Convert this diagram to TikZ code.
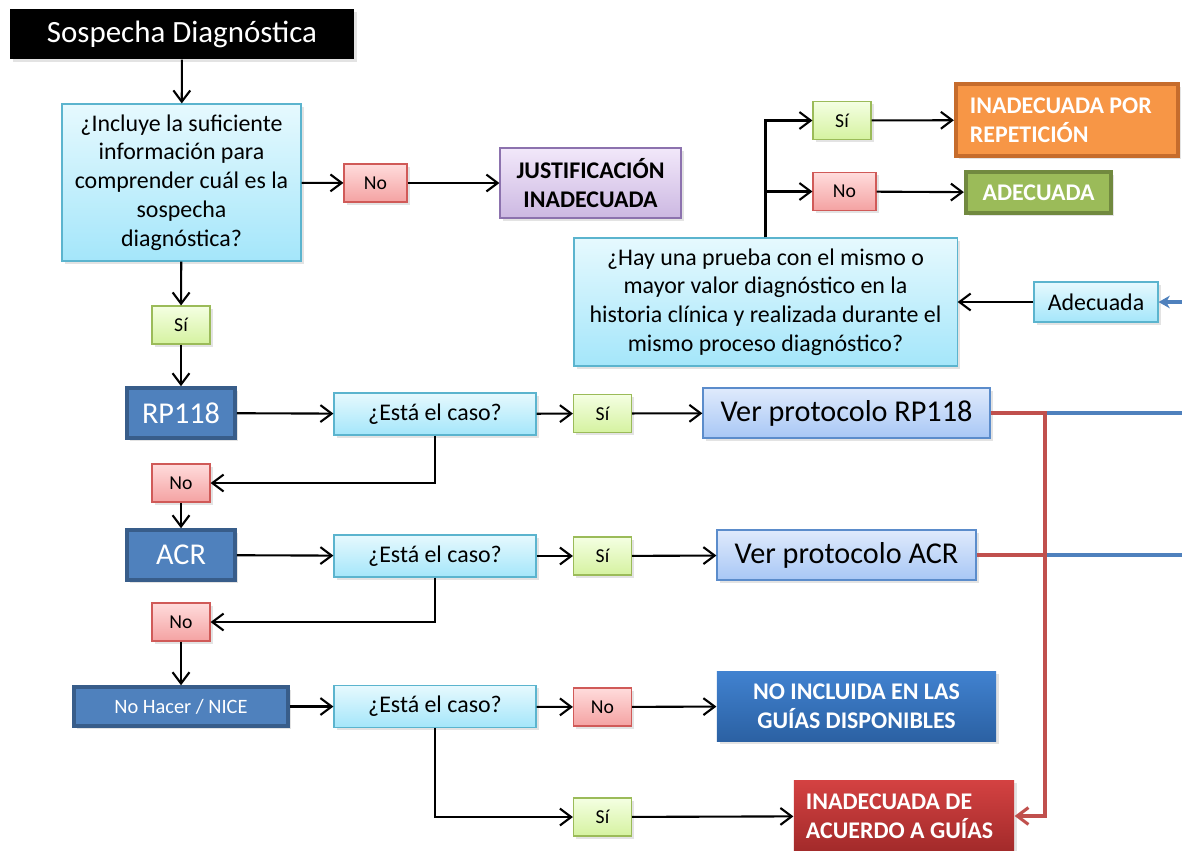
\documentclass[tikz,border=0pt]{standalone}
\usepackage{fontspec}
\setmainfont{Carlito}
\usetikzlibrary{arrows.meta,shadows}

\definecolor{asktop}{HTML}{E6F9FE}
\definecolor{askbot}{HTML}{A4E6FA}
\definecolor{askline}{HTML}{5BB4CE}
\definecolor{sitop}{HTML}{F4FFE2}
\definecolor{sibot}{HTML}{D5F2A0}
\definecolor{siline}{HTML}{9BBB59}
\definecolor{notop}{HTML}{FFDCDC}
\definecolor{nobot}{HTML}{F4A2A2}
\definecolor{noline}{HTML}{D05A58}
\definecolor{justop}{HTML}{F2E8FA}
\definecolor{jusbot}{HTML}{CCB8E2}
\definecolor{jusline}{HTML}{8C72AE}
\definecolor{guidefill}{HTML}{4F81BD}
\definecolor{guideline}{HTML}{385D8A}
\definecolor{prototop}{HTML}{DFEAFC}
\definecolor{protobot}{HTML}{A8C7F5}
\definecolor{protoline}{HTML}{5B8CCB}
\definecolor{orangefill}{HTML}{F79646}
\definecolor{orangeline}{HTML}{C66C2C}
\definecolor{greenfill}{HTML}{9BBB59}
\definecolor{greenline}{HTML}{71893F}
\definecolor{inctop}{HTML}{4182D0}
\definecolor{incbot}{HTML}{2B61A3}
\definecolor{badtop}{HTML}{D44242}
\definecolor{badbot}{HTML}{A22A2A}
\definecolor{redline}{HTML}{C0504D}
\definecolor{blueline}{HTML}{4F81BD}

\begin{document}
\begin{tikzpicture}[x=0.025cm,y=-0.025cm,
  box/.style={rectangle,inner sep=2pt,align=center,line width=0.8pt,
    drop shadow={shadow xshift=2pt,shadow yshift=-2pt,opacity=0.22}},
  ask/.style={box,draw=askline,top color=asktop,bottom color=askbot,
    font=\fontsize{17}{20.5}\selectfont},
  sibox/.style={box,draw=siline,top color=sitop,bottom color=sibot,
    font=\fontsize{14}{16}\selectfont,minimum width=1.45cm,minimum height=0.95cm},
  nobox/.style={box,draw=noline,top color=notop,bottom color=nobot,
    font=\fontsize{14}{16}\selectfont,minimum width=1.45cm,minimum height=0.95cm},
  guide/.style={box,fill=guidefill,draw=guideline,line width=2.5pt,text=white,
    font=\fontsize{21.5}{25}\selectfont,minimum width=2.7cm,minimum height=1.25cm},
  proto/.style={box,draw=protoline,top color=prototop,bottom color=protobot,
    font=\fontsize{21.5}{25}\selectfont,minimum height=1.25cm},
  result/.style={box,text=white,font=\bfseries\fontsize{17}{20.5}\selectfont},
  link/.style={draw,line width=1.5pt,-{Straight Barb[length=8pt,width=12pt]}},
  redlink/.style={draw=redline,line width=2.2pt},
  bluelink/.style={draw=blueline,line width=2.2pt}]
  \useasboundingbox (0,0) rectangle (1182,850);

  \node[box,fill=black,text=white,font=\fontsize{22}{26}\selectfont,
    minimum width=8.6cm,minimum height=1.25cm] (sosp) at (182,34) {Sospecha Diagnóstica};
  \node[ask,minimum width=5.975cm,minimum height=3.925cm] (q1) at (181.5,182.5)
    {¿Incluye la suficiente\\información para\\comprender cuál es la\\sospecha\\diagnóstica?};
  \node[nobox,minimum width=1.575cm] (no1) at (375.5,183) {No};
  \node[box,draw=jusline,top color=justop,bottom color=jusbot,
    font=\bfseries\fontsize{17}{20.5}\selectfont,
    minimum width=4.525cm,minimum height=1.75cm] (just) at (590.5,183) {JUSTIFICACIÓN\\INADECUADA};
  \node[sibox] (si1) at (181,325) {Sí};

  \node[guide] (rp) at (181,413) {RP118};
  \node[ask,minimum width=5.05cm,minimum height=1.05cm] (caso1) at (435,414) {¿Está el caso?};
  \node[sibox] (si2) at (602.5,413.5) {Sí};
  \node[proto,minimum width=7.175cm] (verrp) at (846.5,413) {Ver protocolo RP118};
  \node[nobox] (no2) at (181,483) {No};

  \node[guide] (acr) at (181,555) {ACR};
  \node[ask,minimum width=5.05cm,minimum height=1.05cm] (caso2) at (435,556) {¿Está el caso?};
  \node[sibox] (si3) at (602.5,556) {Sí};
  \node[proto,minimum width=6.475cm] (veracr) at (846.5,555) {Ver protocolo ACR};
  \node[nobox] (no3) at (181,622) {No};

  \node[guide,font=\fontsize{14.5}{17}\selectfont,minimum width=5.35cm,
    minimum height=0.975cm] (nice) at (181,706.5) {No Hacer / NICE};
  \node[ask,minimum width=5.05cm,minimum height=1.05cm] (caso3) at (435,706.5) {¿Está el caso?};
  \node[nobox] (no4) at (602.5,707) {No};
  \node[result,top color=inctop,bottom color=incbot,
    minimum width=6.975cm,minimum height=1.75cm] (noinc) at (856.5,706) {NO INCLUIDA EN LAS\\GUÍAS DISPONIBLES};
  \node[sibox] (si4) at (602.5,817) {Sí};
  \node[result,top color=badtop,bottom color=badbot,align=flush left,inner xsep=0.3cm,
    text width=4.9cm,minimum height=1.8cm] (inad) at (904,816) {INADECUADA DE\\ACUERDO A GUÍAS};

  \node[ask,minimum width=9.575cm,minimum height=3.2cm] (q2) at (765.5,302)
    {¿Hay una prueba con el mismo o\\mayor valor diagnóstico en la\\historia clínica y realizada durante el\\mismo proceso diagnóstico?};
  \node[ask,minimum width=3.1cm,minimum height=1cm] (adec) at (1096,302) {Adecuada};
  \node[sibox] (si5) at (842,120.5) {Sí};
  \node[nobox,minimum width=1.575cm] (no5) at (844.5,191.5) {No};
  \node[result,fill=orangefill,draw=orangeline,line width=3pt,align=flush left,
    inner xsep=0.35cm,text width=4.85cm,minimum height=1.8cm] (rep) at (1067,120) {INADECUADA POR\\REPETICIÓN};
  \node[result,fill=greenfill,draw=greenline,line width=3pt,
    minimum width=3.625cm,minimum height=1.025cm] (ok) at (1038.5,192.5) {ADECUADA};

  \coordinate (jn) at (1045,413);
  \coordinate (edgeA) at (1182,413);
  \coordinate (edgeB) at (1182,555);
  \coordinate (edgeC) at (1182,302);

  \path[link] (sosp) -- (q1);
  \path[link] (q1) -- (no1);
  \path[link] (no1) -- (just);
  \path[link] (q1) -- (si1);
  \path[link] (si1) -- (rp);
  \path[link] (rp) -- (caso1);
  \path[link] (caso1) -- (si2);
  \path[link] (si2) -- (verrp);
  \path[link] (caso1.south) |- (no2.east);
  \path[link] (no2) -- (acr);
  \path[link] (acr) -- (caso2);
  \path[link] (caso2) -- (si3);
  \path[link] (si3) -- (veracr);
  \path[link] (caso2.south) |- (no3.east);
  \path[link] (no3) -- (nice);
  \path[link] (nice) -- (caso3);
  \path[link] (caso3) -- (no4);
  \path[link] (no4) -- (noinc);
  \path[link] (caso3.south) |- (si4.west);
  \path[link] (si4) -- (inad);
  \path[link] (adec) -- (q2);
  \path[link] (q2.north) |- (si5.west);
  \path[link] (q2.north) |- (no5.west);
  \path[link] (si5) -- (rep);
  \path[link] (no5) -- (ok);

  \path[bluelink] (jn) -- (edgeA);
  \path[bluelink] (veracr.east -| jn) -- (edgeB);
  \path[bluelink,-{Stealth[length=8pt,width=9pt]}] (edgeC) -- (adec);
  \path[redlink,-{Straight Barb[length=8pt,width=12pt]}] (verrp.east) -- (jn) |- (inad.east);
  \path[redlink] (veracr.east) -- (veracr.east -| jn);
\end{tikzpicture}
\end{document}
